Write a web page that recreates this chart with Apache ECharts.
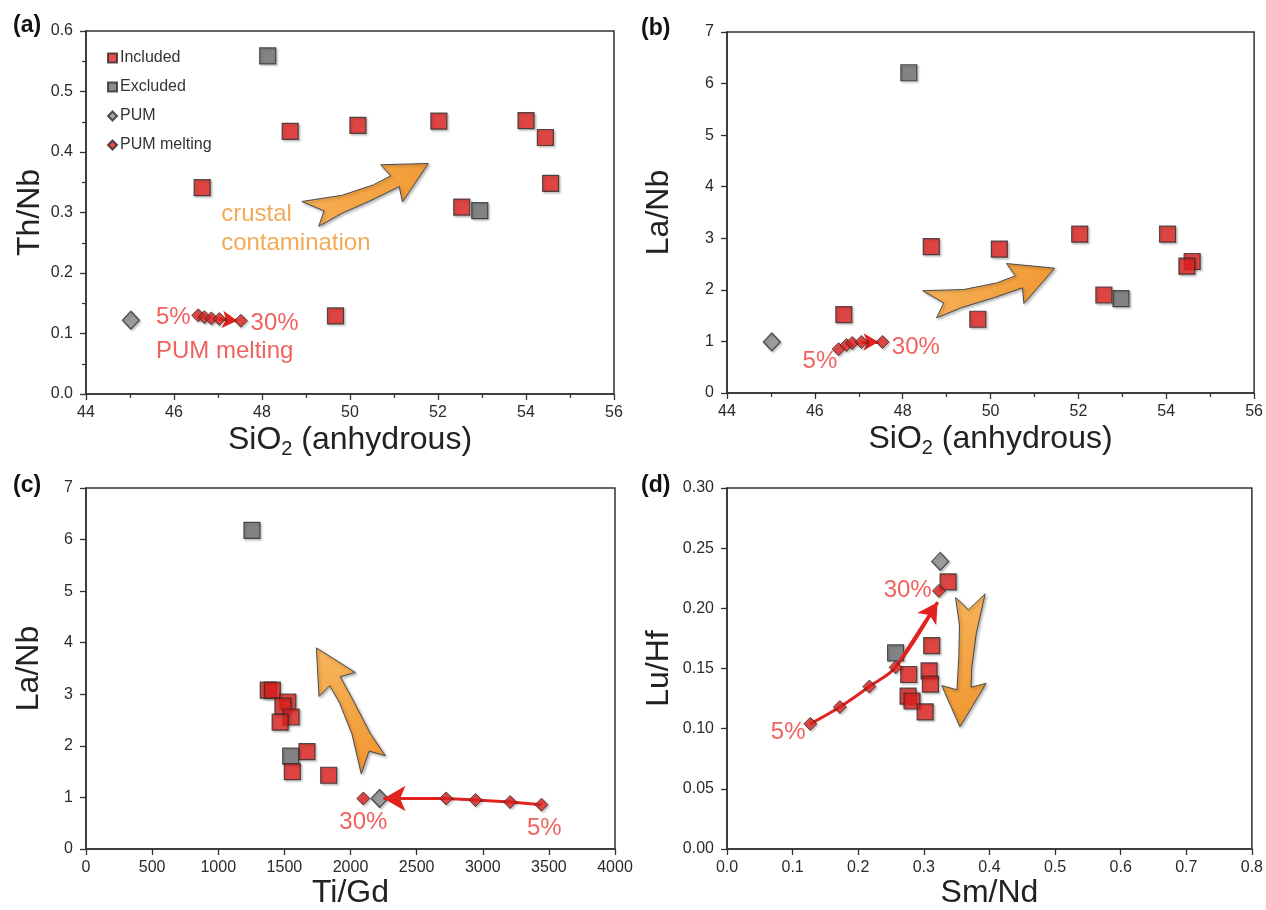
<!DOCTYPE html>
<html>
<head>
<meta charset="utf-8">
<script src="https://cdn.jsdelivr.net/npm/echarts@6/dist/echarts.min.js"></script>
<style>
  html, body { margin: 0; padding: 0; background: #fff; }
  #main { width: 1266px; height: 910px; }
</style>
</head>
<body>
<div id="main"></div>
<script>
// ---- data ----
// (a) SiO2 vs Th/Nb
var inclA = [[46.64,0.341],[48.64,0.434],[50.18,0.444],[52.02,0.451],[54.0,0.452],[54.44,0.424],[54.56,0.348],[52.54,0.309],[49.67,0.129]];
var exclA = [[48.13,0.559],[52.95,0.303]];
var pumA  = [[45.02,0.122]];
var meltA = [[46.55,0.130],[46.69,0.127],[46.85,0.125],[47.03,0.124],[47.52,0.121]];

// (b) SiO2 vs La/Nb
var inclB = [[46.66,1.52],[48.65,2.84],[50.20,2.79],[52.03,3.08],[54.03,3.08],[54.59,2.55],[54.47,2.46],[52.58,1.90],[49.71,1.43]];
var exclB = [[48.14,6.21],[52.97,1.83]];
var pumB  = [[45.02,0.99]];
var meltB = [[46.54,0.85],[46.72,0.93],[46.85,0.97],[47.06,0.99],[47.54,0.99]];

// (c) Ti/Gd vs La/Nb
var inclC = [[1378,3.08],[1409,3.08],[1526,2.85],[1489,2.77],[1551,2.56],[1468,2.46],[1671,1.89],[1560,1.50],[1835,1.43]];
var exclC = [[1255,6.18],[1548,1.80]];
var pumC  = [[2220,0.98]];
var meltC = [[3444,0.86],[3207,0.91],[2945,0.95],[2723,0.98],[2097,0.98]];

// (d) Sm/Nd vs Lu/Hf
var inclD = [[0.337,0.222],[0.312,0.169],[0.308,0.148],[0.310,0.137],[0.277,0.145],[0.276,0.127],[0.282,0.123],[0.302,0.114]];
var exclD = [[0.257,0.163]];
var pumD  = [[0.325,0.239]];
var meltD = [[0.127,0.104],[0.172,0.118],[0.217,0.135],[0.257,0.151],[0.323,0.2145]];

// melting trend arrows (red), ending at the arrow tip
var trendA = [[47.03,0.124],[47.44,0.121]];
var trendB = [[47.06,0.99],[47.45,0.99]];
var trendC = [[3444,0.86],[3207,0.91],[2945,0.95],[2723,0.98],[2250,0.98]];
var trendD = [[0.127,0.104],[0.172,0.118],[0.217,0.135],[0.257,0.151],[0.321,0.205]];

// fat orange arrows: tail x, tail y, tip x, tip y
var swooshA = [49.0, 0.301, 51.78, 0.381];
var swooshB = [48.52, 1.77, 51.46, 2.42];
var swooshC = [2159, 1.55, 1742, 3.90];
var swooshD = [0.376, 0.213, 0.355, 0.1016];

// text annotations
var notesA = [[45.58,0.126,'5%'],[47.73,0.117,'30%'],[45.58,0.070,'PUM melting']];
var crustA = [[47.06,0.297,'crustal'],[47.06,0.249,'contamination']];
var notesB = [[45.71,0.61,'5%'],[47.74,0.89,'30%']];
var notesC = [[1912,0.52,'30%'],[3330,0.40,'5%']];
var notesD = [[0.238,0.215,'30%'],[0.066,0.097,'5%']];

var FONT = 'Liberation Sans, Arial, sans-serif';
var RED = '#e2221e';
var TXTRED = '#ec3a36';
var ORANGE = '#f0952e';

var shadow = { shadowColor: 'rgba(0,0,0,0.25)', shadowBlur: 2, shadowOffsetX: 1.5, shadowOffsetY: 1.5 };

function mk(style) { return Object.assign({}, style, shadow); }

function noteSeries(i, notes, color) {
  return {
    type: 'scatter', xAxisIndex: i, yAxisIndex: i, data: notes, symbolSize: 1, silent: true, z: 7,
    itemStyle: { color: 'rgba(0,0,0,0)' },
    label: { show: true, position: 'right', distance: 0, formatter: function (p) { return p.value[2]; },
             color: color, fontSize: 24, fontFamily: FONT }
  };
}

// one panel = scatter groups + arrows + notes
function panelSeries(i, incl, excl, pum, melt, trend, smoothTrend, headSize, swoosh, bend, notes) {
  var s = [];
  var last = trend[trend.length - 1];
  var prev = trend[trend.length - 2];
  s.push({
    type: 'line', xAxisIndex: i, yAxisIndex: i, data: trend.length > 2 ? trend : [],
    symbol: 'none', smooth: smoothTrend ? 0.35 : false, silent: true, z: 2,
    lineStyle: { color: RED, width: 3 },
    markLine: {
      silent: true, symbol: ['none', 'arrow'], symbolSize: headSize, label: { show: false },
      lineStyle: { color: RED, width: 3, type: 'solid' },
      data: [[{ coord: prev }, { coord: last }]]
    }
  });
  s.push({
    type: 'custom', xAxisIndex: i, yAxisIndex: i, data: [swoosh], silent: true, z: 3,
    encode: { x: [0, 2], y: [1, 3] },
    renderItem: function (params, api) {
      var p0 = api.coord([api.value(0), api.value(1)]);
      var p1 = api.coord([api.value(2), api.value(3)]);
      var dx = p1[0] - p0[0], dy = p1[1] - p0[1];
      var L = Math.sqrt(dx * dx + dy * dy);
      var ux = dx / L, uy = dy / L, nx = -uy, ny = ux;
      var shape = [[0,-0.085],[0.3,-0.05],[0.55,-0.042],[0.70,-0.052],[0.66,-0.16],[1,0],
                   [0.71,0.165],[0.73,0.05],[0.5,0.06],[0.25,0.08],[0.05,0.13],[0.13,0.025]];
      var pts = shape.map(function (q) {
        var t = q[1] + bend * 4 * q[0] * (1 - q[0]);
        return [p0[0] + ux * q[0] * L + nx * t * L, p0[1] + uy * q[0] * L + ny * t * L];
      });
      return {
        type: 'polygon', shape: { points: pts },
        style: {
          fill: new echarts.graphic.LinearGradient(0, 0, 1, 1, [
            { offset: 0, color: '#f8b55c' }, { offset: 1, color: ORANGE }
          ]),
          stroke: '#4a4a4a', lineWidth: 1,
          shadowColor: 'rgba(0,0,0,0.3)', shadowBlur: 3, shadowOffsetX: 1.5, shadowOffsetY: 1.5
        }
      };
    }
  });
  s.push({ name: 'Included', type: 'scatter', xAxisIndex: i, yAxisIndex: i, data: incl, symbol: 'rect', symbolSize: 16, z: 5,
           itemStyle: mk({ color: RED, borderColor: '#2a2a2a', borderWidth: 1.2 }) });
  s.push({ name: 'Excluded', type: 'scatter', xAxisIndex: i, yAxisIndex: i, data: excl, symbol: 'rect', symbolSize: 16, z: 4,
           itemStyle: mk({ color: '#6e7073', borderColor: '#2a2a2a', borderWidth: 1.2 }) });
  s.push({ name: 'PUM', type: 'scatter', xAxisIndex: i, yAxisIndex: i, data: pum, symbol: 'diamond', symbolSize: [17, 18], z: 4,
           itemStyle: mk({ color: '#8d8e90', borderColor: '#2a2a2a', borderWidth: 1.2 }) });
  s.push({ name: 'PUM melting', type: 'scatter', xAxisIndex: i, yAxisIndex: i, data: melt, symbol: 'diamond', symbolSize: [13, 13], z: 6,
           itemStyle: mk({ color: RED, borderColor: '#2a2a2a', borderWidth: 1 }) });
  s.push(noteSeries(i, notes, TXTRED));
  return s;
}

var grids = [
  { left: 86, top: 31, width: 528, height: 363 },
  { left: 727, top: 32, width: 530, height: 361 },
  { left: 86, top: 488, width: 529, height: 362 },
  { left: 727, top: 488, width: 531, height: 361 }
];
grids.forEach(function (g) { g.show = true; g.borderColor = '#333'; g.borderWidth = 1.5; g.backgroundColor = '#fff'; });

function axis(i, dim, min, max, interval, name, gap, digits, minor, rich) {
  var a = {
    type: 'value', gridIndex: i, min: min, max: max, interval: interval,
    name: name, nameLocation: 'middle', nameGap: gap,
    nameTextStyle: { fontSize: 32, color: '#222', fontFamily: FONT },
    axisLine: { show: true, onZero: false, lineStyle: { color: '#333', width: 1.5 } },
    axisTick: { show: true, length: 6, lineStyle: { color: '#333', width: 1.3 } },
    minorTick: { show: minor, splitNumber: 2, length: 4, lineStyle: { color: '#333', width: 1.2 } },
    splitLine: { show: false },
    axisLabel: { color: '#2a2a2a', fontSize: 16, fontFamily: FONT, margin: dim === 'x' ? 11 : 13,
                 formatter: function (v) { return v.toFixed(digits); } }
  };
  if (rich) a.nameTextStyle.rich = rich;
  return a;
}

var sioRich = {
  n: { fontSize: 32, color: '#222', fontFamily: FONT },
  s: { fontSize: 20, color: '#222', fontFamily: FONT, padding: [17, 0, 0, 0] }
};
var sioName = '{n|SiO}{s|2}{n| (anhydrous)}';

var option = {
  animation: false,
  backgroundColor: '#fff',
  title: [
    { text: '(a)', left: 8, top: 9 },
    { text: '(b)', left: 636, top: 12 },
    { text: '(c)', left: 8, top: 469 },
    { text: '(d)', left: 636, top: 469 }
  ].map(function (t) { t.textStyle = { fontSize: 23, fontWeight: 'bold', color: '#111', fontFamily: FONT }; return t; }),
  legend: {
    data: [
      { name: 'Included', icon: 'rect' },
      { name: 'Excluded', icon: 'rect' },
      { name: 'PUM', icon: 'diamond' },
      { name: 'PUM melting', icon: 'diamond' }
    ],
    orient: 'vertical', left: 102, top: 45, itemWidth: 9, itemHeight: 9, itemGap: 13,
    selectedMode: false,
    textStyle: { fontSize: 16, color: '#333', fontFamily: FONT, padding: [0, 0, 0, -2] }
  },
  grid: grids,
  xAxis: [
    axis(0, 'x', 44, 56, 2, sioName, 28, 0, true, sioRich),
    axis(1, 'x', 44, 56, 2, sioName, 28, 0, true, sioRich),
    axis(2, 'x', 0, 4000, 500, 'Ti/Gd', 28, 0, false),
    axis(3, 'x', 0, 0.8, 0.1, 'Sm/Nd', 28, 1, false)
  ],
  yAxis: [
    axis(0, 'y', 0, 0.6, 0.1, 'Th/Nb', 40, 1, true),
    axis(1, 'y', 0, 7, 1, 'La/Nb', 52, 0, false),
    axis(2, 'y', 0, 7, 1, 'La/Nb', 41, 0, false),
    axis(3, 'y', 0, 0.3, 0.05, 'Lu/Hf', 52, 2, false)
  ],
  series: [].concat(
    panelSeries(0, inclA, exclA, pumA, meltA, trendA, false, [13, 15], swooshA, 0.04, notesA),
    panelSeries(1, inclB, exclB, pumB, meltB, trendB, false, [13, 15], swooshB, 0.04, notesB),
    panelSeries(2, inclC, exclC, pumC, meltC, trendC, false, [19, 22], swooshC, 0.03, notesC),
    panelSeries(3, inclD, exclD, pumD, meltD, trendD, true, [17, 20], swooshD, 0.0, notesD),
    [noteSeries(0, crustA, ORANGE)]
  )
};

var chart = echarts.init(document.getElementById('main'));
chart.setOption(option);
</script>
</body>
</html>
